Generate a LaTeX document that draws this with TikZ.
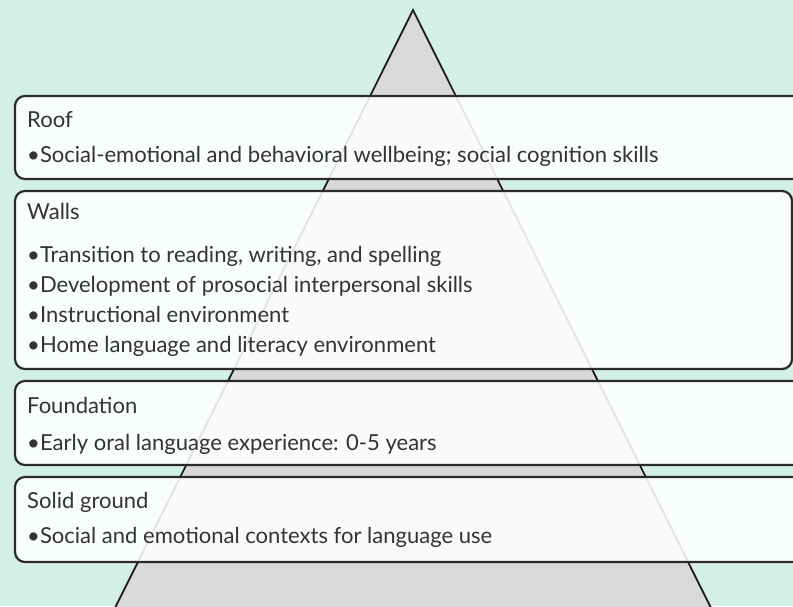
\documentclass[tikz,border=0pt]{standalone}
\usepackage{fontspec}
\setmainfont{Lato}
\usepackage{tikz}
\definecolor{mintbg}{HTML}{D4EFE7}
\definecolor{pyramidgrey}{HTML}{D9D9D9}
\definecolor{boxline}{HTML}{2B2B2B}
\definecolor{labeltext}{HTML}{333333}

\tikzset{
  layerbox/.style={draw=boxline, line width=1.9pt, rounded corners=8.5pt, fill=white, fill opacity=0.88},
  layertext/.style={anchor=base west, inner sep=0pt, text=labeltext, font=\fontsize{18.8pt}{22pt}\selectfont}
}

\begin{document}
\begin{tikzpicture}[x=0.03cm, y=-0.03cm]
% Canvas
\useasboundingbox (0,0) rectangle (793,606);
\fill[mintbg] (0,0) rectangle (793,606);
\clip (0,0) rectangle (793,606);

% Pyramid
\filldraw[fill=pyramidgrey, draw=black!90, line width=1.5pt] (413,10) -- (722,630) -- (104,630) -- cycle;

% Layer boxes
\draw[layerbox] (15,96) rectangle (840,179);
\draw[layerbox] (15,191) rectangle (792,369);
\draw[layerbox] (15,381) rectangle (840,465);
\draw[layerbox] (15,477) rectangle (840,562);

% Roof
\node[layertext] (roof) at (27,127) {Roof};
\node[layertext] (roof1) at (27,162) {•Social-emotional and behavioral wellbeing; social cognition skills};

% Walls
\node[layertext] (walls) at (27,219) {Walls};
\foreach \txt [count=\i] in {{Transition to reading, writing, and spelling},
                             {Development of prosocial interpersonal skills},
                             {Instructional environment},
                             {Home language and literacy environment}} {
    \node[layertext] (walls\i) at (27,232+30*\i) {•\txt};
}

% Foundation
\node[layertext] (foundation) at (27,413) {Foundation};
\node[layertext] (foundation1) at (27,450) {•Early oral language experience: 0-5 years};

% Solid ground
\node[layertext] (ground) at (27,508) {Solid ground};
\node[layertext] (ground1) at (27,543) {•Social and emotional contexts for language use};

\end{tikzpicture}
\end{document}
